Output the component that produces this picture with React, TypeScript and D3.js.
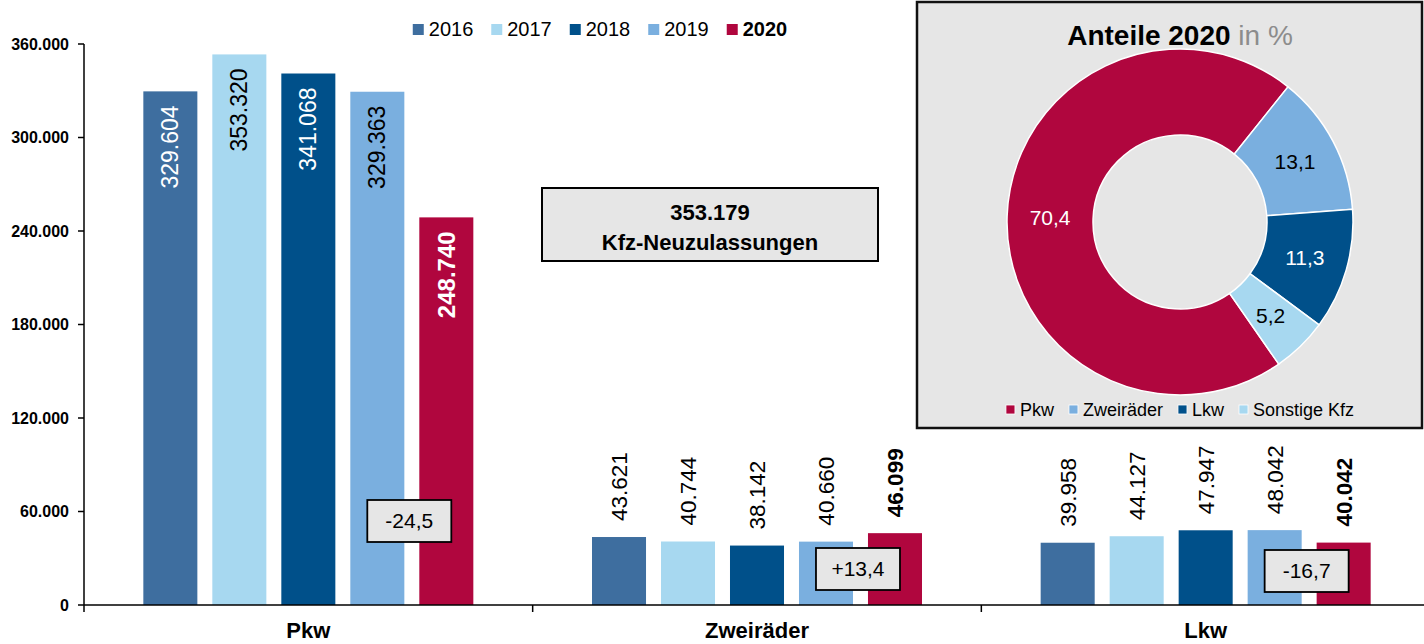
import React, { useEffect, useRef } from "react";
import * as d3 from "d3";

// Neuzulassungen je Fahrzeugart
const categories = ["Pkw", "Zweiräder", "Lkw"];
const years = ["2016", "2017", "2018", "2019", "2020"];
const pkwValues = [329604, 353320, 341068, 329363, 248740];
const zweiraederValues = [43621, 40744, 38142, 40660, 46099];
const lkwValues = [39958, 44127, 47947, 48042, 40042];
const changeLabels = ["-24,5", "+13,4", "-16,7"];
const yTicks = [0, 60000, 120000, 180000, 240000, 300000, 360000];
const totalValue = 353179;
const totalCaption = "Kfz-Neuzulassungen";

// Anteile 2020
const shareNames = ["Pkw", "Zweiräder", "Lkw", "Sonstige Kfz"];
const shareValues = [70.4, 13.1, 11.3, 5.2];

const yearColors = ["#3E6E9F", "#A7D8F0", "#00508A", "#7AAFDF", "#B0063E"];
const shareColors = ["#B0063E", "#7AAFDF", "#00508A", "#A7D8F0"];
const FONT = "'Liberation Sans', Arial, sans-serif";

const de = d3.formatLocale({
  decimal: ",",
  thousands: ".",
  grouping: [3],
  currency: ["", " €"],
});
const fmtInt = de.format(",d");
const fmtPct = de.format(",.1f");

const measure = (text: string, font: string) => {
  const ctx = document.createElement("canvas").getContext("2d")!;
  ctx.font = font;
  return ctx.measureText(text).width;
};

const App = () => {
  const svgRef = useRef<SVGSVGElement>(null);

  useEffect(() => {
    const svg = d3.select(svgRef.current);
    svg.selectAll("*").remove();
    svg.style("font-family", FONT);

    const series = [pkwValues, zweiraederValues, lkwValues];

    const x0 = d3.scaleBand().domain(categories).range([84, 1430]).padding(0);
    const x1 = d3
      .scaleBand()
      .domain(years)
      .range([0, x0.bandwidth()])
      .paddingInner(0.217)
      .paddingOuter(0.86);
    const y = d3.scaleLinear().domain([0, 360000]).range([605, 44]);

    // y axis
    const yAxis = svg.append("g");
    yAxis
      .append("line")
      .attr("x1", 84)
      .attr("x2", 84)
      .attr("y1", y(360000))
      .attr("y2", 612)
      .attr("stroke", "#000")
      .attr("stroke-width", 1.5);
    yTicks.forEach((t) => {
      yAxis
        .append("line")
        .attr("x1", 78)
        .attr("x2", 84)
        .attr("y1", y(t))
        .attr("y2", y(t))
        .attr("stroke", "#000")
        .attr("stroke-width", 1.5);
      yAxis
        .append("text")
        .attr("x", 69)
        .attr("y", y(t))
        .attr("dy", "0.35em")
        .attr("text-anchor", "end")
        .attr("font-size", 16)
        .attr("font-weight", "bold")
        .text(fmtInt(t));
    });

    // bars
    categories.forEach((cat, ci) => {
      const g = svg.append("g").attr("transform", `translate(${x0(cat)},0)`);
      series[ci].forEach((v, yi) => {
        const bx = x1(years[yi])!;
        g.append("rect")
          .attr("x", bx)
          .attr("y", y(v))
          .attr("width", x1.bandwidth())
          .attr("height", y(0) - y(v))
          .attr("fill", yearColors[yi]);

        const cx = bx + x1.bandwidth() / 2;
        const bold = yi === 4;
        if (ci === 0) {
          // label inside the bar
          g.append("text")
            .attr("transform", `translate(${cx},${y(v) + 14}) rotate(-90)`)
            .attr("text-anchor", "end")
            .attr("dy", "0.35em")
            .attr("font-size", bold ? 24 : 23)
            .attr("font-weight", bold ? "bold" : "normal")
            .attr("fill", yi === 1 || yi === 3 ? "#000" : "#fff")
            .text(fmtInt(v));
        } else {
          g.append("text")
            .attr("transform", `translate(${cx},${y(v) - 16}) rotate(-90)`)
            .attr("text-anchor", "start")
            .attr("dy", "0.35em")
            .attr("font-size", 22.5)
            .attr("font-weight", bold ? "bold" : "normal")
            .attr("fill", "#000")
            .text(fmtInt(v));
        }
      });

      // change box between 2019 and 2020
      const boxLift = [63, 15, 13][ci];
      const bxCenter = x1("2020")! - 10;
      const bw = 84;
      const bh = 42;
      g.append("rect")
        .attr("x", bxCenter - bw / 2)
        .attr("y", y(0) - boxLift - bh)
        .attr("width", bw)
        .attr("height", bh)
        .attr("fill", "#E6E6E6")
        .attr("stroke", "#000")
        .attr("stroke-width", 1.8);
      g.append("text")
        .attr("x", bxCenter)
        .attr("y", y(0) - boxLift - bh / 2)
        .attr("dy", "0.35em")
        .attr("text-anchor", "middle")
        .attr("font-size", 21)
        .text(changeLabels[ci]);
    });

    // x axis
    svg
      .append("line")
      .attr("x1", 84)
      .attr("x2", 1424)
      .attr("y1", y(0))
      .attr("y2", y(0))
      .attr("stroke", "#000")
      .attr("stroke-width", 1.5);
    categories.forEach((cat, ci) => {
      if (ci > 0) {
        svg
          .append("line")
          .attr("x1", x0(cat)!)
          .attr("x2", x0(cat)!)
          .attr("y1", y(0))
          .attr("y2", 612)
          .attr("stroke", "#000")
          .attr("stroke-width", 1.5);
      }
      svg
        .append("text")
        .attr("x", x0(cat)! + x0.bandwidth() / 2)
        .attr("y", 638)
        .attr("text-anchor", "middle")
        .attr("font-size", 22)
        .attr("font-weight", "bold")
        .text(cat);
    });

    // year legend
    const legFont = `20px ${FONT}`;
    const legBold = `bold 20px ${FONT}`;
    const legWidths = years.map((yr, i) =>
      measure(yr, i === 4 ? legBold : legFont)
    );
    const legTotal =
      d3.sum(legWidths) + years.length * (11 + 5) + (years.length - 1) * 18;
    let lx = 600 - legTotal / 2;
    const legend = svg.append("g");
    years.forEach((yr, i) => {
      legend
        .append("rect")
        .attr("x", lx)
        .attr("y", 24)
        .attr("width", 11)
        .attr("height", 11)
        .attr("fill", yearColors[i]);
      legend
        .append("text")
        .attr("x", lx + 16)
        .attr("y", 36)
        .attr("font-size", 20)
        .attr("font-weight", i === 4 ? "bold" : "normal")
        .text(yr);
      lx += 16 + legWidths[i] + 18;
    });

    // total box
    svg
      .append("rect")
      .attr("x", 542)
      .attr("y", 188)
      .attr("width", 336)
      .attr("height", 73)
      .attr("fill", "#E6E6E6")
      .attr("stroke", "#000")
      .attr("stroke-width", 2);
    svg
      .append("text")
      .attr("x", 710)
      .attr("y", 220)
      .attr("text-anchor", "middle")
      .attr("font-size", 22)
      .attr("font-weight", "bold")
      .text(fmtInt(totalValue));
    svg
      .append("text")
      .attr("x", 710)
      .attr("y", 250)
      .attr("text-anchor", "middle")
      .attr("font-size", 22)
      .attr("font-weight", "bold")
      .text(totalCaption);

    // donut panel
    const panel = svg.append("g");
    panel
      .append("rect")
      .attr("x", 917)
      .attr("y", 2)
      .attr("width", 505)
      .attr("height", 426)
      .attr("fill", "#E6E6E6")
      .attr("stroke", "#111")
      .attr("stroke-width", 2.5);

    const title = panel
      .append("text")
      .attr("x", 1180)
      .attr("y", 45)
      .attr("text-anchor", "middle")
      .attr("font-size", 28);
    title.append("tspan").attr("font-weight", "bold").text("Anteile 2020");
    title.append("tspan").attr("fill", "#8C8C8C").text(" in %");

    const cx = 1180;
    const cy = 222;
    const deg = Math.PI / 180;
    const pie = d3
      .pie<number>()
      .sort(null)
      .startAngle(145.2 * deg)
      .endAngle(505.2 * deg);
    const arcs = pie(shareValues);
    const arc = d3.arc<d3.PieArcDatum<number>>().innerRadius(87).outerRadius(173);
    const labelArc = d3
      .arc<d3.PieArcDatum<number>>()
      .innerRadius(130)
      .outerRadius(130);
    const donut = panel.append("g").attr("transform", `translate(${cx},${cy})`);
    donut
      .selectAll("path")
      .data(arcs)
      .join("path")
      .attr("d", arc)
      .attr("fill", (d, i) => shareColors[i])
      .attr("stroke", "#fff")
      .attr("stroke-width", 1.5);
    donut
      .selectAll("text")
      .data(arcs)
      .join("text")
      .attr("transform", (d) => `translate(${labelArc.centroid(d)})`)
      .attr("text-anchor", "middle")
      .attr("dy", "0.35em")
      .attr("font-size", 21)
      .attr("fill", (d, i) => (i === 0 || i === 2 ? "#fff" : "#000"))
      .text((d) => fmtPct(d.data));

    // donut legend
    const dFont = `18px ${FONT}`;
    const dWidths = shareNames.map((n) => measure(n, dFont));
    const dTotal =
      d3.sum(dWidths) + shareNames.length * (9 + 5) + (shareNames.length - 1) * 15;
    let dx = cx - dTotal / 2;
    shareNames.forEach((n, i) => {
      panel
        .append("rect")
        .attr("x", dx)
        .attr("y", 405)
        .attr("width", 9)
        .attr("height", 9)
        .attr("fill", shareColors[i])
        .attr("stroke", "#fff")
        .attr("stroke-width", 0.8);
      panel
        .append("text")
        .attr("x", dx + 14)
        .attr("y", 416)
        .attr("font-size", 18)
        .text(n);
      dx += 14 + dWidths[i] + 15;
    });
  }, []);

  return (
    <div style={{ position: "absolute", left: 0, top: 0 }}>
      <svg
        ref={svgRef}
        width={1424}
        height={644}
        style={{ display: "block", background: "#fff" }}
      ></svg>
    </div>
  );
};

export default App;
